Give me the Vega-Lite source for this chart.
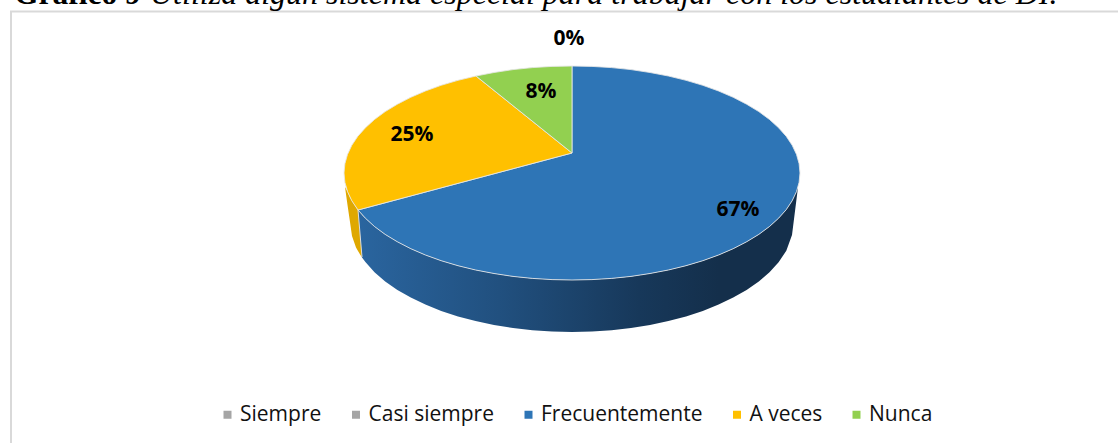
{"$schema":"https://vega.github.io/schema/vega-lite/v6.json","width":1118,"height":443,"autosize":{"type":"none"},"padding":0,"background":"white","view":{"stroke":null},
"datasets":{
"slices":[{"categoria":"Siempre","pct":"0%","lx":569,"ly":39,"show":0},{"categoria":"Frecuentemente","pct":"67%","lx":738,"ly":210},{"categoria":"A veces","pct":"25%","lx":412,"ly":135},{"categoria":"Nunca","pct":"8%","lx":541,"ly":92}],
"heading":[{"t":"Gráfico 9","x":14,"y":4}],
"heading2":[{"t":"Utiliza algún sistema especial para trabajar con los estudiantes de DI.","x":150,"y":4}],
"frame":[{"n":0,"x":11,"y":443},{"n":1,"x":11,"y":11.5},{"n":2,"x":1118,"y":11.5}],
"seam":[{"n":0,"x":358,"y":210},{"n":1,"x":362,"y":257}],
"sideBlue":[{"x":358,"y":210,"y2":210},{"x":362,"y":214.7,"y2":257.6},{"x":365.4,"y":218.2,"y2":262},{"x":374.5,"y":226.5,"y2":272.2},{"x":385.2,"y":234.4,"y2":281.4},{"x":397.4,"y":241.8,"y2":289.9},{"x":410.8,"y":248.7,"y2":297.6},{"x":425.4,"y":255,"y2":304.6},{"x":441.2,"y":260.7,"y2":310.9},{"x":458,"y":265.7,"y2":316.4},{"x":475.6,"y":270,"y2":321.1},{"x":494,"y":273.5,"y2":325},{"x":513,"y":276.4,"y2":328},{"x":532.4,"y":278.4,"y2":330.2},{"x":552.1,"y":279.6,"y2":331.6},{"x":572,"y":280,"y2":332},{"x":591.9,"y":279.6,"y2":331.6},{"x":611.6,"y":278.4,"y2":330.2},{"x":631,"y":276.4,"y2":328},{"x":650,"y":273.5,"y2":325},{"x":668.4,"y":270,"y2":321.1},{"x":686,"y":265.7,"y2":316.4},{"x":702.8,"y":260.7,"y2":310.9},{"x":718.6,"y":255,"y2":304.6},{"x":733.2,"y":248.7,"y2":297.6},{"x":746.6,"y":241.8,"y2":289.9},{"x":758.8,"y":234.4,"y2":281.4},{"x":769.5,"y":226.5,"y2":272.2},{"x":778.6,"y":218.2,"y2":262.3},{"x":786.3,"y":209.6,"y2":250.7},{"x":792,"y":201.1,"y2":235},{"x":798,"y":187.2,"y2":187.2}],
"sideOrange":[{"x":345,"y":187,"y2":187},{"x":347.5,"y":191.6,"y2":205},{"x":350,"y":197.4,"y2":222},{"x":352,"y":201.1,"y2":236},{"x":356,"y":207.2,"y2":247.4},{"x":358,"y":210,"y2":251},{"x":362,"y":214.7,"y2":257.6}],
"outline":[
{"c":"Frecuentemente","n":0,"x":572,"y":153},{"c":"Frecuentemente","n":1,"x":572,"y":66},{"c":"Frecuentemente","n":2,"x":591.9,"y":66.4},{"c":"Frecuentemente","n":3,"x":611.6,"y":67.6},{"c":"Frecuentemente","n":4,"x":631,"y":69.6},{"c":"Frecuentemente","n":5,"x":650,"y":72.5},{"c":"Frecuentemente","n":6,"x":668.4,"y":76},{"c":"Frecuentemente","n":7,"x":686,"y":80.3},{"c":"Frecuentemente","n":8,"x":702.8,"y":85.3},{"c":"Frecuentemente","n":9,"x":718.6,"y":91},{"c":"Frecuentemente","n":10,"x":733.2,"y":97.3},{"c":"Frecuentemente","n":11,"x":746.6,"y":104.2},{"c":"Frecuentemente","n":12,"x":758.8,"y":111.6},{"c":"Frecuentemente","n":13,"x":769.5,"y":119.5},{"c":"Frecuentemente","n":14,"x":778.6,"y":127.8},{"c":"Frecuentemente","n":15,"x":786.3,"y":136.4},{"c":"Frecuentemente","n":16,"x":792.2,"y":145.3},{"c":"Frecuentemente","n":17,"x":796.5,"y":154.4},{"c":"Frecuentemente","n":18,"x":799.1,"y":163.7},{"c":"Frecuentemente","n":19,"x":800,"y":173},{"c":"Frecuentemente","n":20,"x":799.1,"y":182.3},{"c":"Frecuentemente","n":21,"x":796.5,"y":191.6},{"c":"Frecuentemente","n":22,"x":792.2,"y":200.7},{"c":"Frecuentemente","n":23,"x":786.3,"y":209.6},{"c":"Frecuentemente","n":24,"x":778.6,"y":218.2},{"c":"Frecuentemente","n":25,"x":769.5,"y":226.5},{"c":"Frecuentemente","n":26,"x":758.8,"y":234.4},{"c":"Frecuentemente","n":27,"x":746.6,"y":241.8},{"c":"Frecuentemente","n":28,"x":733.2,"y":248.7},{"c":"Frecuentemente","n":29,"x":718.6,"y":255},{"c":"Frecuentemente","n":30,"x":702.8,"y":260.7},{"c":"Frecuentemente","n":31,"x":686,"y":265.7},{"c":"Frecuentemente","n":32,"x":668.4,"y":270},{"c":"Frecuentemente","n":33,"x":650,"y":273.5},{"c":"Frecuentemente","n":34,"x":631,"y":276.4},{"c":"Frecuentemente","n":35,"x":611.6,"y":278.4},{"c":"Frecuentemente","n":36,"x":591.9,"y":279.6},{"c":"Frecuentemente","n":37,"x":572,"y":280},{"c":"Frecuentemente","n":38,"x":552.1,"y":279.6},{"c":"Frecuentemente","n":39,"x":532.4,"y":278.4},{"c":"Frecuentemente","n":40,"x":513,"y":276.4},{"c":"Frecuentemente","n":41,"x":494,"y":273.5},{"c":"Frecuentemente","n":42,"x":475.6,"y":270},{"c":"Frecuentemente","n":43,"x":458,"y":265.7},{"c":"Frecuentemente","n":44,"x":441.2,"y":260.7},{"c":"Frecuentemente","n":45,"x":425.4,"y":255},{"c":"Frecuentemente","n":46,"x":410.8,"y":248.7},{"c":"Frecuentemente","n":47,"x":397.4,"y":241.8},{"c":"Frecuentemente","n":48,"x":385.2,"y":234.4},{"c":"Frecuentemente","n":49,"x":374.5,"y":226.5},{"c":"Frecuentemente","n":50,"x":365.4,"y":218.2},{"c":"Frecuentemente","n":51,"x":358,"y":210},{"c":"Frecuentemente","n":52,"x":572,"y":153},
{"c":"A veces","n":0,"x":572,"y":153},{"c":"A veces","n":1,"x":358,"y":210},{"c":"A veces","n":2,"x":351.8,"y":200.7},{"c":"A veces","n":3,"x":347.5,"y":191.6},{"c":"A veces","n":4,"x":344.9,"y":182.3},{"c":"A veces","n":5,"x":344,"y":173},{"c":"A veces","n":6,"x":344.9,"y":163.7},{"c":"A veces","n":7,"x":347.5,"y":154.4},{"c":"A veces","n":8,"x":351.8,"y":145.3},{"c":"A veces","n":9,"x":357.7,"y":136.4},{"c":"A veces","n":10,"x":365.4,"y":127.8},{"c":"A veces","n":11,"x":374.5,"y":119.5},{"c":"A veces","n":12,"x":385.2,"y":111.6},{"c":"A veces","n":13,"x":397.4,"y":104.2},{"c":"A veces","n":14,"x":410.8,"y":97.3},{"c":"A veces","n":15,"x":425.4,"y":91},{"c":"A veces","n":16,"x":441.2,"y":85.3},{"c":"A veces","n":17,"x":458,"y":80.3},{"c":"A veces","n":18,"x":476,"y":76},{"c":"A veces","n":19,"x":572,"y":153},
{"c":"Nunca","n":0,"x":572,"y":153},{"c":"Nunca","n":1,"x":476,"y":76},{"c":"Nunca","n":2,"x":494,"y":72.5},{"c":"Nunca","n":3,"x":513,"y":69.6},{"c":"Nunca","n":4,"x":532.4,"y":67.6},{"c":"Nunca","n":5,"x":552.1,"y":66.4},{"c":"Nunca","n":6,"x":572,"y":66},{"c":"Nunca","n":7,"x":572,"y":153}
]},
"encoding":{"x":{"field":"x","type":"quantitative","scale":{"domain":[0,1118],"nice":false,"zero":false},"axis":null},"y":{"field":"y","type":"quantitative","scale":{"domain":[443,0],"nice":false,"zero":false},"axis":null}},
"layer":[
{"data":{"name":"frame"},"mark":{"type":"line","stroke":"#d9d9d9","strokeWidth":2,"clip":false},"encoding":{"order":{"field":"n"}}},
{"data":{"name":"sideOrange"},"mark":{"type":"area","color":"#dfa800"},"encoding":{"y2":{"field":"y2"}}},
{"data":{"name":"sideBlue"},"mark":{"type":"area","color":{"gradient":"linear","x1":0,"x2":1,"y1":0,"y2":0,"stops":[{"offset":0,"color":"#2a659f"},{"offset":0.32,"color":"#21507f"},{"offset":0.64,"color":"#17385a"},{"offset":0.82,"color":"#142f4b"},{"offset":1,"color":"#142f4b"}]}},"encoding":{"y2":{"field":"y2"}}},
{"data":{"name":"seam"},"mark":{"type":"line","stroke":"#dddddd","strokeWidth":1},"encoding":{"order":{"field":"n"}}},
{"data":{"name":"outline"},"mark":{"type":"line","filled":true,"stroke":"#e6e6e6","strokeWidth":1,"strokeOpacity":0.85},"encoding":{"order":{"field":"n"},"color":{"field":"c","type":"nominal","sort":null,"scale":{"domain":["Siempre","Casi siempre","Frecuentemente","A veces","Nunca"],"range":["#a5a5a5","#a5a5a5","#2e75b6","#ffc000","#92d050"]},"legend":{"orient":"none","legendX":217,"legendY":404,"direction":"horizontal","columns":5,"title":null,"symbolType":"square","symbolSize":64,"symbolStrokeWidth":0,"labelFont":"Open Sans","labelFontSize":21,"labelColor":"#111111","labelOffset":2,"columnPadding":23.5,"labelLimit":300}}}},
{"data":{"name":"slices"},"mark":{"type":"text","font":"Open Sans","fontWeight":"bold","fontSize":21,"color":"#000000"},"encoding":{"x":{"field":"lx","type":"quantitative"},"y":{"field":"ly","type":"quantitative"},"text":{"field":"pct"}}},
{"data":{"name":"heading"},"mark":{"type":"text","font":"Liberation Serif","fontWeight":"bold","fontSize":31.5,"align":"left","baseline":"alphabetic","color":"#000000","clip":false},"encoding":{"text":{"field":"t"}}},
{"data":{"name":"heading2"},"mark":{"type":"text","font":"Liberation Serif","fontStyle":"italic","fontSize":32,"align":"left","baseline":"alphabetic","color":"#000000","clip":false},"encoding":{"text":{"field":"t"}}}
]}
